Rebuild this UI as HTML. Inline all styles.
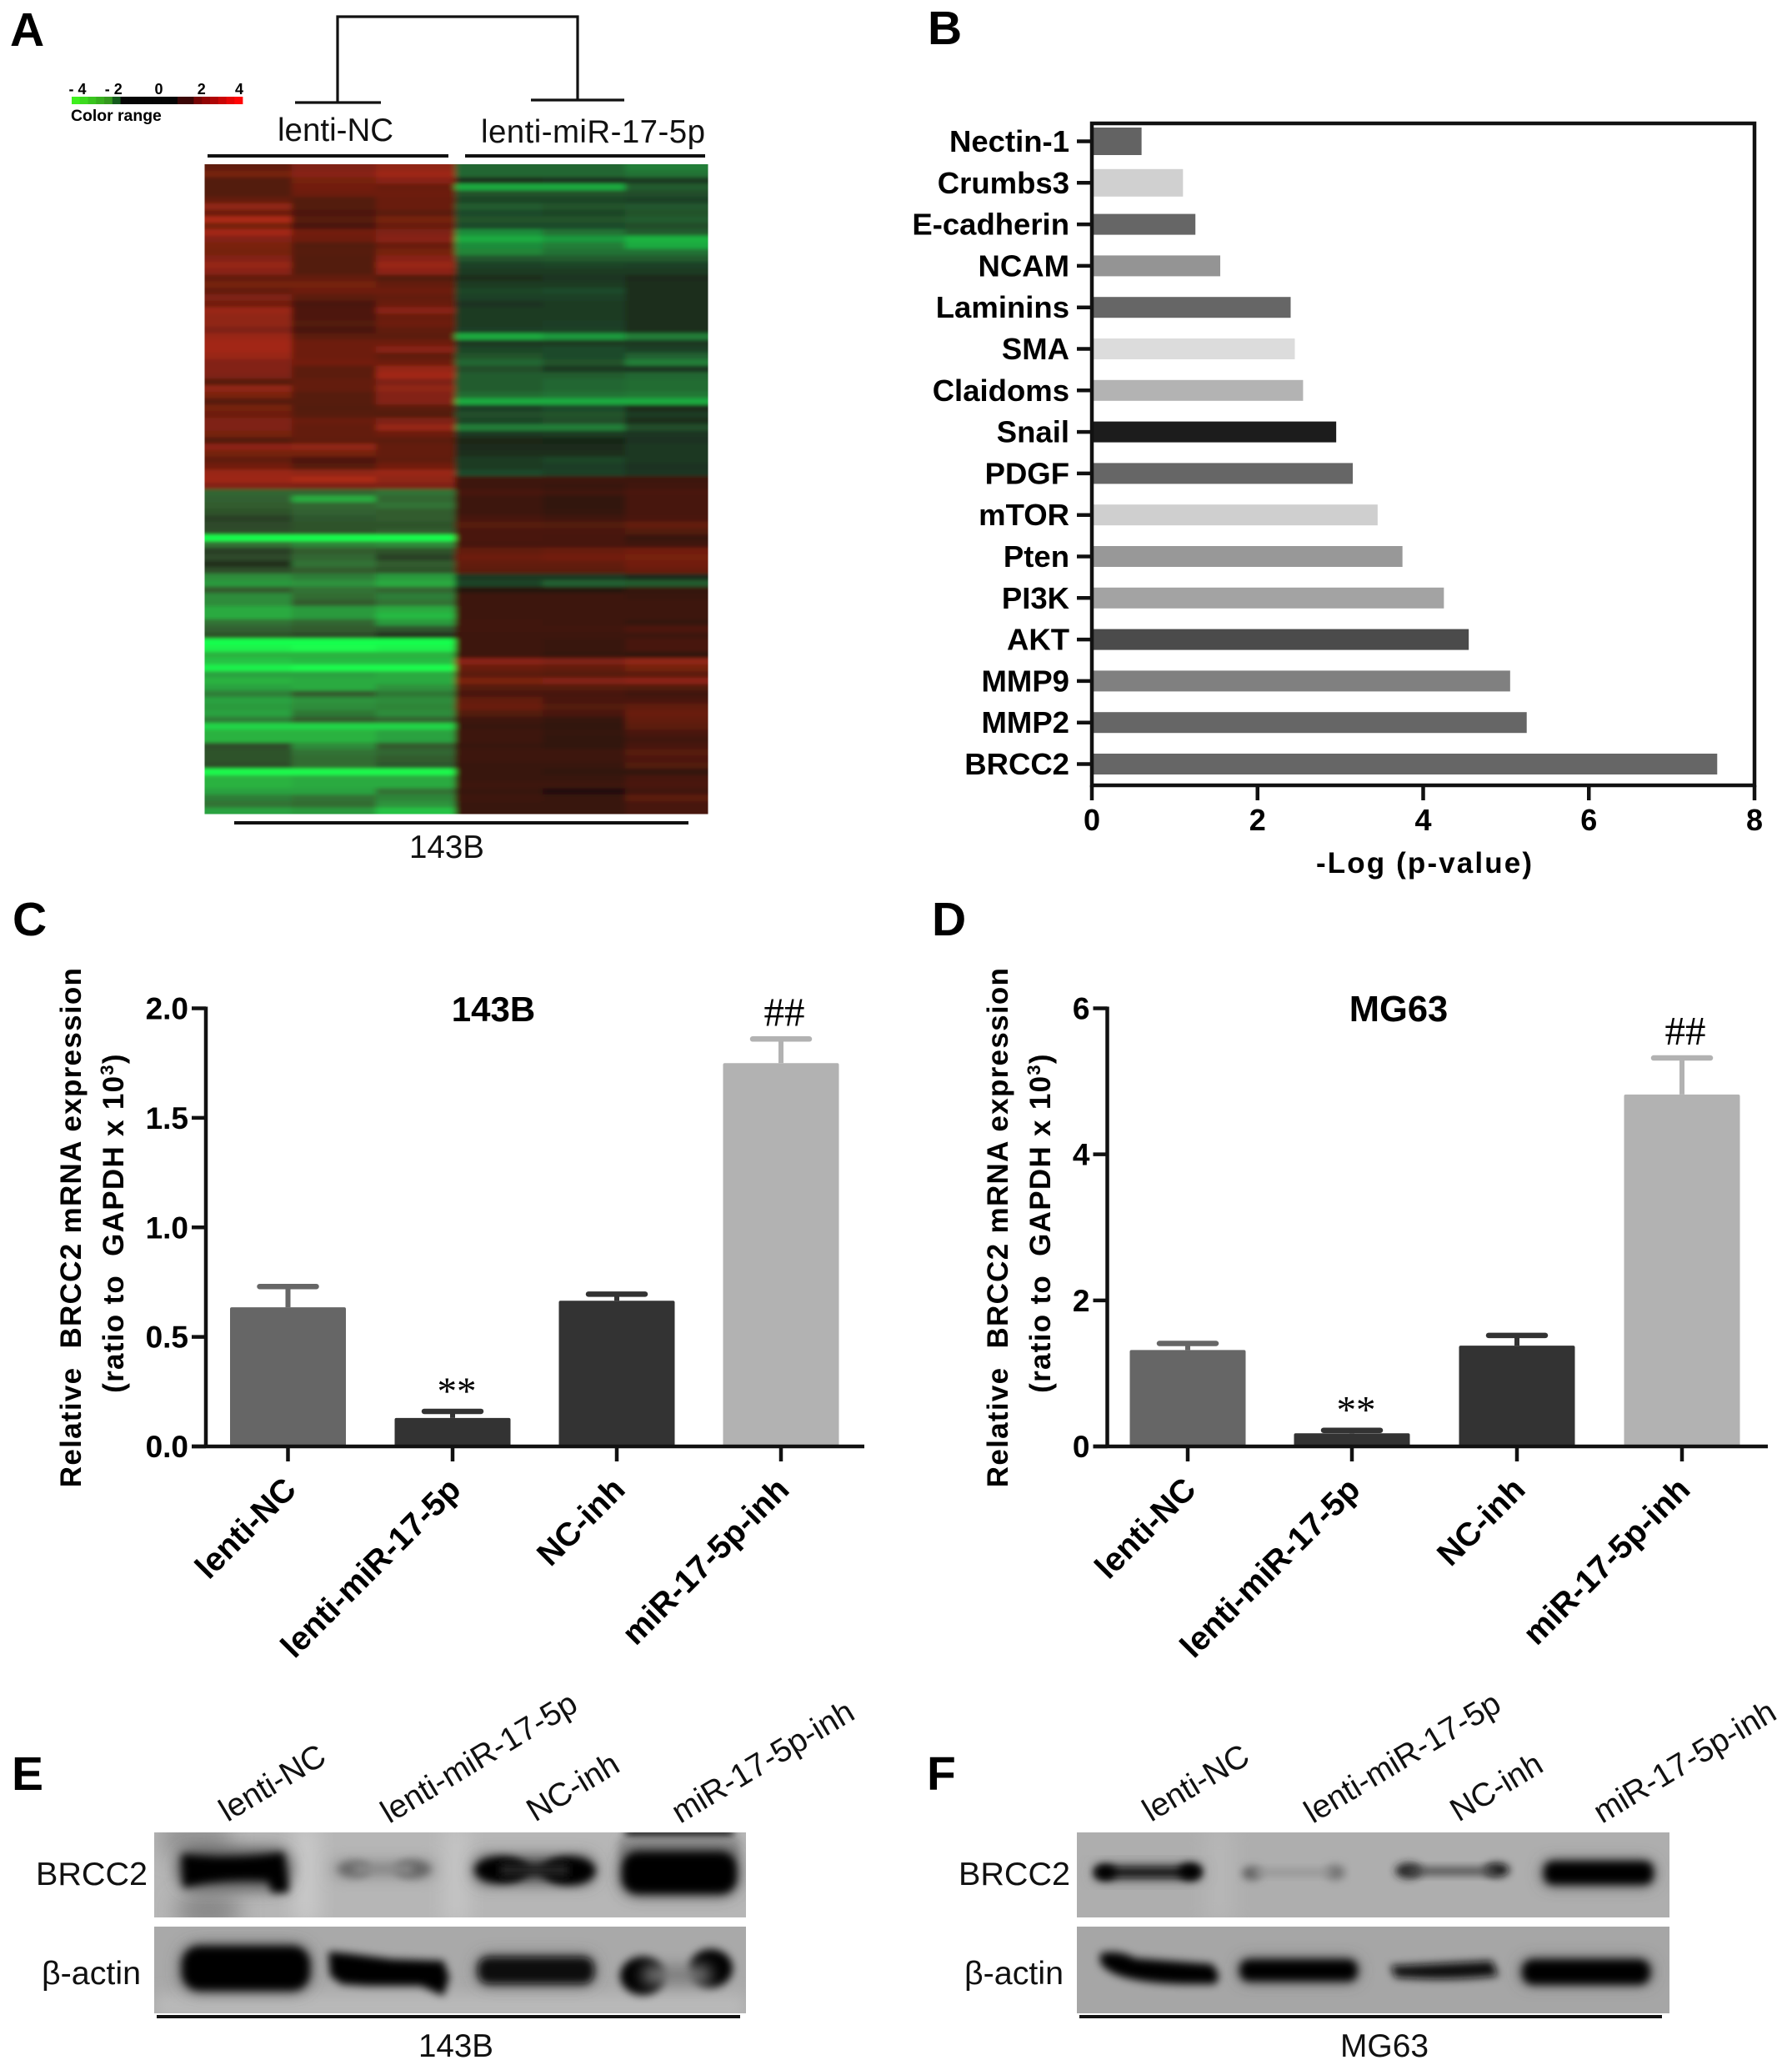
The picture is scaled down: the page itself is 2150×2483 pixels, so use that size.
<!DOCTYPE html>
<html lang="en">
<head>
<meta charset="utf-8">
<title>BRCC2 expression figure</title>
<style>
html,body{margin:0;padding:0;background:#fff;width:2150px;height:2483px;overflow:hidden}
svg{display:block}
text{font-family:"Liberation Sans",sans-serif;fill:#000}
.b{font-weight:bold}
.letter{font-weight:bold;font-size:57px}
.lbl{font-size:38.5px;fill:#111}
.blotlbl{font-size:39px;fill:#111}
</style>
</head>
<body>
<svg id="fig" xmlns="http://www.w3.org/2000/svg" width="2150" height="2483" viewBox="0 0 2150 2483">
<defs>
<filter id="hb" x="-2%" y="-2%" width="104%" height="104%"><feGaussianBlur stdDeviation="4 2"/></filter>
<filter id="b4" x="-30%" y="-80%" width="160%" height="260%"><feGaussianBlur stdDeviation="5"/></filter>
<filter id="b8" x="-30%" y="-80%" width="160%" height="260%"><feGaussianBlur stdDeviation="9"/></filter>
<filter id="b12" x="-80%" y="-80%" width="260%" height="260%"><feGaussianBlur stdDeviation="13"/></filter>
<clipPath id="heatClip"><rect x="245.5" y="197" width="604" height="779.5"/></clipPath>
<clipPath id="e1"><rect x="185" y="2198" width="710" height="102"/></clipPath>
<clipPath id="e2"><rect x="185" y="2311" width="710" height="104"/></clipPath>
<clipPath id="f1"><rect x="1292" y="2198" width="711" height="102"/></clipPath>
<clipPath id="f2"><rect x="1292" y="2311" width="711" height="104"/></clipPath>
</defs>
<rect width="2150" height="2483" fill="#fff"/>

<!-- Panel letters -->
<text class="letter" x="12" y="55">A</text>
<text class="letter" x="1113" y="53">B</text>
<text class="letter" x="15" y="1122">C</text>
<text class="letter" x="1118" y="1122">D</text>
<text class="letter" x="14" y="2147">E</text>
<text class="letter" x="1112" y="2147">F</text>

<!-- Panel A static -->
<g fill="none" stroke="#111" stroke-width="3.2">
<path d="M405 123V20H693V120"/><path d="M354 123H457"/><path d="M637 120H749"/>
</g>
<text class="lbl" x="333" y="169">lenti-NC</text>
<text class="lbl" x="577" y="171" textLength="269">lenti-miR-17-5p</text>
<rect x="249" y="185" width="289" height="4" fill="#111"/>
<rect x="558" y="185" width="288" height="4" fill="#111"/>
<g id="colorScale"></g>
<text class="b" x="85" y="145" font-size="19.4">Color range</text>
<g clip-path="url(#heatClip)"><g id="heat" filter="url(#hb)"></g></g>
<rect x="281" y="985" width="545" height="4" fill="#111"/>
<text class="lbl" x="491" y="1029" font-size="38.5">143B</text>

<g id="panelB"></g>
<g id="panelC"></g>
<g id="panelD"></g>

<!-- Panel E blots -->
<g clip-path="url(#e1)">
<rect x="185" y="2198" width="710" height="102" fill="#b6b6b6"/>
<ellipse cx="250" cy="2292" rx="40" ry="20" fill="#858585" filter="url(#b12)"/>
<rect x="195" y="2185" width="80" height="40" fill="#929292" filter="url(#b12)"/>
<rect x="355" y="2190" width="25" height="120" fill="#cdcdcd" filter="url(#b12)"/>
<rect x="535" y="2190" width="25" height="120" fill="#c8c8c8" filter="url(#b12)"/>
<rect x="750" y="2190" width="130" height="15" fill="#2a2a2a" filter="url(#b4)"/>
<rect x="742" y="2206" width="146" height="24" fill="#8d8d8d" filter="url(#b4)"/>
<rect x="212" y="2217" width="138" height="50" rx="20" fill="#555" filter="url(#b8)"/>
<path d="M218 2224 Q280 2232 340 2222 L346 2262 L346 2270 L326 2270 L322 2256 Q270 2252 220 2264Z" fill="#000" filter="url(#b4)"/>
<rect x="398" y="2231" width="124" height="22" rx="9" fill="#999" filter="url(#b8)"/>
<ellipse cx="425" cy="2242" rx="20" ry="10" fill="#6a6a6a" filter="url(#b4)"/>
<ellipse cx="495" cy="2242" rx="22" ry="11" fill="#666" filter="url(#b4)"/>
<rect x="425" y="2236" width="70" height="12" fill="#8a8a8a" filter="url(#b4)"/>
<rect x="568" y="2226" width="146" height="34" rx="14" fill="#555" filter="url(#b8)"/>
<ellipse cx="602" cy="2243" rx="32" ry="16" fill="#000" filter="url(#b4)"/>
<ellipse cx="682" cy="2244" rx="32" ry="17" fill="#000" filter="url(#b4)"/>
<rect x="600" y="2235" width="82" height="16" fill="#222" filter="url(#b4)"/>
<rect x="744" y="2218" width="142" height="56" rx="20" fill="#444" filter="url(#b8)"/>
<rect x="747" y="2222" width="136" height="49" rx="18" fill="#000" filter="url(#b4)"/>
</g>
<g clip-path="url(#e2)">
<rect x="185" y="2311" width="710" height="104" fill="#a9a9a9"/>
<rect x="185" y="2392" width="710" height="30" fill="#bababa" filter="url(#b8)"/>
<rect x="216" y="2332" width="158" height="58" rx="22" fill="#555" filter="url(#b8)"/>
<rect x="219" y="2335" width="152" height="52" rx="20" fill="#000" filter="url(#b4)"/>
<path d="M394 2341 L416 2343 L470 2350 L532 2352 L539 2372 L532 2394 L505 2382 L440 2382 L410 2380 L396 2370Z" fill="#000" filter="url(#b4)"/>
<rect x="572" y="2346" width="142" height="35" rx="14" fill="#555" filter="url(#b8)"/>
<rect x="574" y="2348" width="138" height="31" rx="12" fill="#080808" filter="url(#b4)"/>
<ellipse cx="771" cy="2370" rx="27" ry="23" fill="#000" filter="url(#b4)"/>
<ellipse cx="853" cy="2361" rx="26" ry="23" fill="#000" filter="url(#b4)"/>
<rect x="772" y="2358" width="80" height="22" fill="#7a7a7a" filter="url(#b8)"/>
</g>
<rect x="188" y="2417" width="700" height="4" fill="#111"/>
<text class="lbl" x="43" y="2261" textLength="134" lengthAdjust="spacingAndGlyphs">BRCC2</text>
<text class="lbl" x="50" y="2380" textLength="119" lengthAdjust="spacingAndGlyphs">β-actin</text>
<text class="lbl" x="502" y="2467" textLength="90" lengthAdjust="spacingAndGlyphs">143B</text>
<g>
<text class="blotlbl" transform="translate(273 2186) rotate(-31)">lenti-NC</text>
<text class="blotlbl" transform="translate(467 2188) rotate(-31)">lenti-miR-17-5p</text>
<text class="blotlbl" transform="translate(642 2186) rotate(-31)">NC-inh</text>
<text class="blotlbl" transform="translate(816 2188) rotate(-31)">miR-17-5p-inh</text>
</g>

<!-- Panel F blots -->
<g clip-path="url(#f1)">
<rect x="1292" y="2198" width="711" height="102" fill="#aeaeae"/>
<rect x="1448" y="2190" width="30" height="120" fill="#b8b8b8" filter="url(#b12)"/>
<rect x="1313" y="2238" width="128" height="16" rx="7" fill="#666" filter="url(#b8)"/>
<rect x="1315" y="2240" width="124" height="12" rx="5" fill="#0c0c0c" filter="url(#b4)"/>
<ellipse cx="1326" cy="2246" rx="13" ry="9" fill="#000" filter="url(#b4)"/>
<ellipse cx="1428" cy="2245" rx="14" ry="10" fill="#000" filter="url(#b4)"/>
<ellipse cx="1502" cy="2247" rx="12" ry="8" fill="#5f5f5f" filter="url(#b4)"/>
<ellipse cx="1602" cy="2246" rx="12" ry="9" fill="#747474" filter="url(#b4)"/>
<rect x="1505" y="2242" width="92" height="8" fill="#939393" filter="url(#b4)"/>
<ellipse cx="1690" cy="2244" rx="16" ry="9" fill="#222" filter="url(#b4)"/>
<ellipse cx="1796" cy="2243" rx="15" ry="8" fill="#0a0a0a" filter="url(#b4)"/>
<rect x="1690" y="2240" width="106" height="9" fill="#4a4a4a" filter="url(#b4)"/>
<rect x="1850" y="2232" width="135" height="30" rx="12" fill="#555" filter="url(#b8)"/>
<rect x="1853" y="2233" width="130" height="27" rx="10" fill="#000" filter="url(#b4)"/>
</g>
<g clip-path="url(#f2)">
<rect x="1292" y="2311" width="711" height="104" fill="#a6a6a6"/>
<path d="M1320 2343 Q1342 2338 1362 2349 L1454 2356 Q1468 2372 1457 2380 L1420 2380 Q1334 2378 1320 2354Z" fill="#000" filter="url(#b4)"/>
<rect x="1486" y="2350" width="144" height="27" rx="12" fill="#555" filter="url(#b8)"/>
<rect x="1488" y="2351" width="140" height="25" rx="10" fill="#030303" filter="url(#b4)"/>
<path d="M1668 2358 L1790 2352 L1798 2370 Q1740 2377 1674 2372Z" fill="#080808" filter="url(#b4)"/>
<rect x="1824" y="2350" width="158" height="30" rx="13" fill="#555" filter="url(#b8)"/>
<rect x="1827" y="2351" width="152" height="29" rx="12" fill="#000" filter="url(#b4)"/>
</g>
<rect x="1295" y="2417" width="699" height="4" fill="#111"/>
<text class="lbl" x="1150" y="2261" textLength="134" lengthAdjust="spacingAndGlyphs">BRCC2</text>
<text class="lbl" x="1157" y="2380" textLength="119" lengthAdjust="spacingAndGlyphs">β-actin</text>
<text class="lbl" x="1608" y="2467" textLength="106" lengthAdjust="spacingAndGlyphs">MG63</text>
<g>
<text class="blotlbl" transform="translate(1381 2186) rotate(-31)">lenti-NC</text>
<text class="blotlbl" transform="translate(1575 2188) rotate(-31)">lenti-miR-17-5p</text>
<text class="blotlbl" transform="translate(1750 2186) rotate(-31)">NC-inh</text>
<text class="blotlbl" transform="translate(1922 2188) rotate(-31)">miR-17-5p-inh</text>
</g>
</svg>

<script>
/* ---------- Panel A data ---------- */
const heatSamples = ['NC-1','NC-2','NC-3','miR-1','miR-2','miR-3'];
const heatRows = [
[1.5,2.2,2.6,-2,-2,-2.4],[2,2.4,2.9,-2,-2,-2.2],[1.2,2,2.4,-.6,-.7,-1],[1.2,1.9,1.7,-3,-3,-1.8],[1.2,1.8,1.8,-1.6,-1.6,-1.5],
[1.6,1.2,1.7,-1.3,-1.3,-1.2],[2.6,1.2,1.7,-1.8,-1.6,-1.7],[1.8,1.1,1.4,-1.4,-1.3,-1.6],[3.2,1.3,2,-1.6,-1.6,-1.8],[2,1,1.7,-1.4,-1.4,-1.5],
[3,1.9,2.2,-2.6,-2.2,-1.8],[2.3,1.8,2.4,-3,-2.8,-3.1],[2.1,1.2,1.7,-2.6,-2.4,-3],[2,1.3,2,-2.5,-2.2,-2.2],[2.3,1.2,2.4,-1.7,-1.8,-1.8],
[2.7,1.2,2.8,-1.2,-1.3,-1.2],[2.4,1.2,2.5,-1,-1,-1],[1.6,1.6,1.2,-.6,-.8,-.4],[2,2,1.6,-1,-1,-.5],[1.6,1.8,1.8,-1.3,-1.4,-.6],
[2.2,1.4,1.6,-1.2,-1.2,-.6],[1.9,1,1.7,-.7,-1,-.6],[2.8,1.1,2.4,-1,-1,-.5],[2.6,1.1,1.7,-1,-1,-.5],[2.6,1.2,1.8,-1,-1.1,-.5],
[2.2,1,1.5,-1.1,-1.2,-.6],[2.8,1.4,1.4,-3,-2.8,-2.4],[3,1.8,1.8,-.9,-1,-.9],[3,1.8,2.4,-1.3,-1.4,-1.2],[2.8,1.8,1.5,-1.6,-1.4,-1.9],
[2.3,1.9,1.8,-2,-1.6,-2.4],[2.3,1.4,2.7,-1.5,-.9,-.8],[2.2,1.4,3,-1.8,-1.8,-2],[1.3,1.6,2.2,-1.8,-2,-2.1],[2.6,1.6,2.6,-1.8,-2,-2.1],
[2.1,1.3,2.3,-2.1,-2.2,-2.3],[1.3,1.3,2.3,-3,-3,-3],[2,1.2,1.4,-1.1,-1.4,-.3],[1.8,1.3,1.2,-1.5,-1.6,-1],[2.2,1.7,2.2,-1.3,-1.5,-.6],
[2.2,1.6,2.7,-2.4,-2.4,-1.5],[2,1.6,1.8,-.9,-1,-.8],[1.2,1.5,1.4,-.2,-.1,-.7],[2.5,2.6,1.6,-.3,-.3,-.9],[2,2,1.6,-.6,-.6,-.9],
[1.5,1.1,1.5,-1,-1.3,-.9],[1.9,1.3,1.9,-1,-1.1,-.7],[2.8,2.6,2.8,-1.4,-1.2,-.8],[2.9,3.2,2.6,.7,.7,.7],[2.3,2.2,2.2,.7,.6,.8],
[-2,-2,-2.2,.9,.8,1],[-1.9,-3,-2,.7,.4,.9],[-1.8,-2,-2.2,.7,.4,.9],[-1.6,-1.9,-1.8,.7,.5,.9],[-1.2,-1.7,-1.8,.9,.8,1],
[-1.4,-1.6,-1.6,1.3,1.2,1.6],[-1.5,-1.6,-1.8,1,1,1.2],[-4,-4,-4,1,.9,.6],[-2.2,-2.5,-2.6,.9,.9,.8],[-1.1,-1.8,-1.6,1.6,1.7,1.9],
[-1.4,-2,-1.2,1.8,1.9,2],[-.5,-2.2,-1.8,1.6,1.6,1.9],[-1.5,-1.8,-1.6,1.4,1.4,1.7],[-2.6,-2.4,-2.8,-.9,-.9,-.3],[-2.8,-2.7,-3,-1.3,-1.9,-1.8],
[-1.8,-2.2,-2,.2,.2,.5],[-2.6,-2.1,-2.4,.7,.7,.6],[-2.6,-1.8,-2.2,.7,.7,.7],[-3,-2.8,-3,.7,.7,.7],[-3,-2.8,-3.2,.7,.7,.7],
[-2.2,-2,-2.8,.8,.7,.5],[-1.9,-1.8,-1.7,.8,.8,1.1],[-1.6,-1.4,-.7,.7,.7,.7],[-4,-4,-4,.7,.6,.9],[-3.8,-3.9,-3.8,.7,.6,.9],
[-3.1,-3.1,-3.1,.7,.5,.4],[-3.3,-3.2,-3.2,2.4,2.2,2.6],[-3.8,-3.9,-3.9,1.7,1.6,2],[-2.9,-2.9,-3,1.4,1.3,1.4],[-3.1,-3,-3,2.1,2.3,2.5],
[-2.9,-3,-2.7,1.3,1.3,1.2],[-2.4,-1.8,-2.3,1,.9,.8],[-2.9,-2.7,-2.6,1.6,1,1],[-2.8,-2.6,-2.5,1.7,1.2,1.5],[-2.9,-2.3,-2.6,1.2,1,1.7],
[-2.4,-1.8,-2,.7,.5,1.6],[-3.5,-3.5,-3.5,.6,.4,1.4],[-3.1,-3.1,-2.9,.7,.5,1],[-3.1,-3.1,-2.9,.7,.4,.8],[-1.5,-2.6,-1.8,.6,.4,.9],
[-1.6,-2.2,-2,.7,.7,1.3],[-1.6,-2.1,-1.8,.7,.7,1.1],[-1.5,-2.1,-1.7,.6,.6,1.2],[-3.9,-3.9,-3.9,.6,.4,.4],[-3.1,-3,-3,.6,.6,.9],
[-3.1,-3,-3,.7,.7,1],[-2.9,-2.9,-2.2,.6,.1,.8],[-2.4,-2.2,-2.5,.7,.6,1.4],[-2.2,-2.1,-2.7,.6,.6,.9],[-2.9,-2.8,-3.3,.6,.6,.9]
];
const colorScaleValues = [-4,-3.6,-3.2,-2.8,-2.4,-2,-1.6,-1.2,-.8,-.4,0,.4,.8,1.2,1.6,2,2.4,2.8,3.2,3.6,4];
const colorScaleTicks = ['- 4','- 2','0','2','4'];
const colorScaleTickValues = [-4,-2,0,2,4];

/* ---------- Panel B data ---------- */
const bCategories = ['Nectin-1','Crumbs3','E-cadherin','NCAM','Laminins','SMA','Claidoms','Snail','PDGF','mTOR','Pten','PI3K','AKT','MMP9','MMP2','BRCC2'];
const bValues = [0.6,1.1,1.25,1.55,2.4,2.45,2.55,2.95,3.15,3.45,3.75,4.25,4.55,5.05,5.25,7.55];
const bShades = ['#636363','#d0d0d0','#666666','#949494','#666666','#dcdcdc','#b3b3b3','#1c1c1c','#666666','#cfcfcf','#989898','#a3a3a3','#4b4b4b','#808080','#666666','#666666'];
const bTicks = [0,2,4,6,8];

/* ---------- Panels C / D data ---------- */
const exprCategories = ['lenti-NC','lenti-miR-17-5p','NC-inh','miR-17-5p-inh'];
const exprShades = ['#666666','#333333','#333333','#b2b2b2'];
const cValues = [0.635,0.13,0.665,1.75];
const cErrorTops = [0.73,0.16,0.695,1.86];
const cTickValues = [0,0.5,1,1.5,2];
const cTickLabels = ['0.0','0.5','1.0','1.5','2.0'];
const dValues = [1.32,0.18,1.38,4.82];
const dErrorTops = [1.41,0.22,1.52,5.32];
const dTickValues = [0,2,4,6];
const dTickLabels = ['0','2','4','6'];

const NS = 'http://www.w3.org/2000/svg';
function mk(parent, tag, attrs, txt){
  const n = document.createElementNS(NS, tag);
  for (const k in attrs) n.setAttribute(k, attrs[k]);
  if (txt !== undefined) n.textContent = txt;
  parent.appendChild(n);
  return n;
}
function slug(s){ return s.toLowerCase().replace(/[^a-z0-9]+/g,'-'); }

/* heat colour */
function heatColor(v, c){
  if (v >= 0) return 'rgb(' + Math.round(30+v*44) + ',' + Math.round(16+v*8) + ',' + Math.round(12+v*2.5) + ')';
  const a = -v;
  const olive = c < 3 ? 6 : 2;
  return 'rgb(' + Math.round(24+a*(4-a)*olive) + ',' + Math.min(255,Math.round(38+a*8+12*a*a)) + ',' + Math.round(22+14*a) + ')';
}

/* heatmap */
(function(){
  const g = document.getElementById('heat');
  const colEdges = [245.5,350,451,546,651,750,850];
  const top = 197, h = 779.5, rh = h/heatRows.length;
  heatRows.forEach(function(row, r){
    row.forEach(function(v, c){
      const el = mk(g,'rect',{x:colEdges[c]-(c===0?10:0),y:top+r*rh-(r===0?6:0),width:colEdges[c+1]-colEdges[c]+(c===0||c===5?10:0)+0.5,height:rh+0.5+(r===0||r===heatRows.length-1?6:0),fill:heatColor(v,c)});
      
      
    });
  });
})();

/* colour scale */
(function(){
  const g = document.getElementById('colorScale');
  const x0 = 86, x1 = 291, y0 = 116, hh = 9;
  const n = colorScaleValues.length, w = (x1-x0)/n;
  const sx = function(v){ return x0 + (v+4)/8*(x1-x0); };
  function swatch(v){
    if (v <= -2.2) return 'rgb(' + Math.round(50+(-v-2)*6) + ',' + Math.round(130+(-v-2)*55) + ',' + '30)';
    if (v < -1.6) return '#145a1c';
    if (v < 1.2) return '#050505';
    if (v < 1.7) return '#3a0606';
    return 'rgb(' + Math.round(90+(v-1.6)*70) + ',5,5)';
  }
  colorScaleValues.forEach(function(v,i){
    const el = mk(g,'rect',{x:x0+i*w,y:y0,width:w+0.4,height:hh,fill:swatch(v)});
    
    
  });
  colorScaleTicks.forEach(function(t,i){
    const el = mk(g,'text',{x:sx(colorScaleTickValues[i])+(i===4?-4:i===0?7:i===1?-1:2),y:113,'text-anchor':'middle','font-size':18,'font-weight':'bold'},t);
    
    
  });
})();

/* Panel B */
(function(){
  const g = document.getElementById('panelB');
  const left = 1310, right = 2105, top = 148, bottom = 942;
  const X = function(v){ return left + v/8*(right-left); };
  const Y = function(i){ return 169.5 + i*49.8; };
  bCategories.forEach(function(c,i){
    const hh = i < 2 ? 33 : 25;
    const bar = mk(g,'rect',{x:left,y:Y(i)-hh/2,width:X(bValues[i])-left,height:hh,fill:bShades[i]});
    
    
    const tick = mk(g,'line',{x1:left-18,x2:left,y1:Y(i),y2:Y(i),stroke:'#111','stroke-width':4.5});
    
    
    const lab = mk(g,'text',{x:1283,y:Y(i)+12.5,'text-anchor':'end','font-size':36.5,'font-weight':'bold',fill:'#111'},c);
    
    
  });
  const frame = mk(g,'rect',{x:left,y:top,width:right-left,height:bottom-top,fill:'none',stroke:'#111','stroke-width':4.5});
  
  
  bTicks.forEach(function(t){
    const tk = mk(g,'line',{x1:X(t),x2:X(t),y1:bottom,y2:bottom+18,stroke:'#111','stroke-width':4.5});
    
    
    const lb = mk(g,'text',{x:X(t),y:996,'text-anchor':'middle','font-size':36,'font-weight':'bold',fill:'#111'},String(t));
    
    
  });
  const ttl = mk(g,'text',{x:1579,y:1047,'font-size':35,'font-weight':'bold',textLength:259,fill:'#111'},'-Log (p-value)');
  
  
})();

/* Panels C & D */
function expressionPanel(id, opt){
  const g = document.getElementById(id);
  const top = 1209.5, bottom = 1735;
  const Y = function(v){ return bottom - v/opt.max*(bottom-top); };
  opt.values.forEach(function(v,i){
    const cx = opt.tickX[i];
    const stem = mk(g,'line',{x1:cx,x2:cx,y1:Y(v),y2:Y(opt.errs[i]),stroke:exprShades[i],'stroke-width':6});
    
    
    const cap = mk(g,'line',{x1:cx-34,x2:cx+34,y1:Y(opt.errs[i]),y2:Y(opt.errs[i]),stroke:exprShades[i],'stroke-width':6.5,'stroke-linecap':'round'});
    
    
    const bar = mk(g,'rect',{x:cx-69.5,y:Y(v),width:139,height:bottom-Y(v),rx:2,fill:exprShades[i]});
    
    
    const tk = mk(g,'line',{x1:cx,x2:cx,y1:bottom,y2:bottom+18,stroke:'#111','stroke-width':4.5});
    
    
    const lb = mk(g,'text',{transform:'translate('+(cx+12)+' '+(bottom+54)+') rotate(-45)','text-anchor':'end','font-size':39.5,'font-weight':'bold',fill:'#111'},exprCategories[i]);
    
    
  });
  const ya = mk(g,'line',{x1:opt.axisX,x2:opt.axisX,y1:top-2,y2:bottom,stroke:'#111','stroke-width':4.5});
  
  
  const xa = mk(g,'line',{x1:opt.axisX-17,x2:opt.xEnd,y1:bottom,y2:bottom,stroke:'#111','stroke-width':4.5});
  
  
  opt.ticks.forEach(function(t,i){
    const tk = mk(g,'line',{x1:opt.axisX-17,x2:opt.axisX,y1:Y(t),y2:Y(t),stroke:'#111','stroke-width':4.5});
    
    
    const lb = mk(g,'text',{x:opt.axisX-21,y:Y(t)+13,'text-anchor':'end','font-size':37,'font-weight':'bold',fill:'#111'},opt.tickLabels[i]);
    
    
  });
  const ti = mk(g,'text',{x:opt.titleX,y:1225,'text-anchor':'middle','font-size':opt.titleSize,'font-weight':'bold',fill:'#111'},opt.title);
  
  
  const last = opt.tickX[3], second = opt.tickX[1];
  const hh = mk(g,'text',{x:last+4,y:Y(opt.errs[3])-16,'text-anchor':'middle','font-size':49,style:'font-family:"Liberation Serif",serif'},'##');
  
  
  const st = mk(g,'text',{x:second+5,y:Y(opt.errs[1])-9,'text-anchor':'middle','font-size':47,style:'font-family:"Liberation Serif",serif'},'**');
  
  
  const l1 = mk(g,'text',{transform:'translate('+opt.titleLine1+' 1472) rotate(-90)','text-anchor':'middle','font-size':35,'font-weight':'bold','letter-spacing':1.3,fill:'#111'},'Relative\u00a0\u00a0BRCC2 mRNA expression');
  
  
  const l2 = mk(g,'text',{transform:'translate('+opt.titleLine2+' 1467) rotate(-90)','text-anchor':'middle','font-size':35,'font-weight':'bold','letter-spacing':1.3,fill:'#111'},'(ratio to\u00a0\u00a0GAPDH x 10');
  
  
  const sup = mk(l2,'tspan',{dy:-12,'font-size':22},'3');
  
  
  const par = mk(l2,'tspan',{dy:12},')');
  
  
}
expressionPanel('panelC',{max:2,values:cValues,errs:cErrorTops,ticks:cTickValues,tickLabels:cTickLabels,tickX:[345.5,543,740,937],axisX:247,xEnd:1037,title:'143B',titleX:592,titleSize:42,titleLine1:97,titleLine2:148});
expressionPanel('panelD',{max:6,values:dValues,errs:dErrorTops,ticks:dTickValues,tickLabels:dTickLabels,tickX:[1425,1622,1820,2018],axisX:1328.5,xEnd:2121,title:'MG63',titleX:1678,titleSize:43.5,titleLine1:1209,titleLine2:1260});
</script>
</body>
</html>
